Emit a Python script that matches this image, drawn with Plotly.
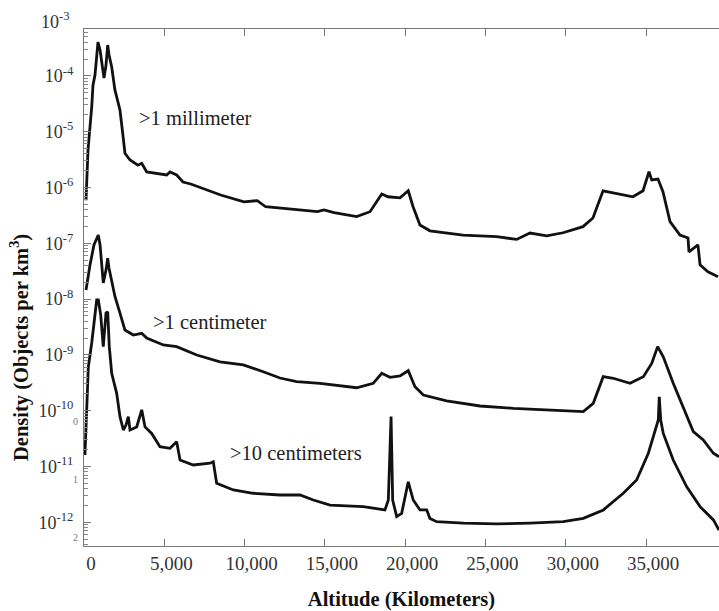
import plotly.graph_objects as go

# ---- data (altitude km, density objects per km^3) ----
mm_alt = [125, 250, 480, 560, 685, 870, 1000, 1245, 1370, 1475, 1560, 1725, 1925, 2240, 2410, 2550,
          2865, 3360, 3595, 3905, 5150, 5355, 5770, 6165, 6645, 7015, 7890, 8510, 9960, 10790, 11310,
          12450, 13490, 14530, 14940, 15570, 16980, 17810, 18540, 18930, 19680, 20190, 20490, 20920,
          21540, 23600, 25700, 26940, 27770, 28810, 29830, 31070, 31690, 32320, 32940, 33560, 34180,
          34810, 35180, 35350, 35740, 36050, 36490, 37110, 37610, 37670, 38230, 38360, 38850, 39480]
mm_den = [5.9e-7, 4.7e-6, 2.76e-5, 6.8e-5, 1.03e-4, 4.0e-4, 2.9e-4, 9.1e-5, 1.56e-4, 3.56e-4, 2.36e-4,
          1.44e-4, 5.6e-5, 2.44e-5, 9.4e-6, 4.1e-6, 3.1e-6, 2.5e-6, 2.7e-6, 1.89e-6, 1.67e-6, 1.89e-6,
          1.67e-6, 1.25e-6, 1.15e-6, 1.05e-6, 8.4e-7, 7.3e-7, 5.5e-7, 5.8e-7, 4.5e-7, 4.2e-7, 3.94e-7,
          3.67e-7, 3.94e-7, 3.52e-7, 2.99e-7, 3.67e-7, 7.6e-7, 6.8e-7, 6.5e-7, 8.7e-7, 4.5e-7, 2.12e-7,
          1.67e-7, 1.40e-7, 1.31e-7, 1.17e-7, 1.52e-7, 1.35e-7, 1.54e-7, 1.98e-7, 2.83e-7, 8.7e-7,
          8.0e-7, 7.3e-7, 6.8e-7, 8.7e-7, 1.91e-6, 1.36e-6, 1.41e-6, 8.4e-7, 2.43e-7, 1.40e-7, 1.24e-7,
          7.0e-8, 9.3e-8, 4.1e-8, 3.08e-8, 2.5e-8]

cm_alt = [125, 375, 620, 890, 1000, 1200, 1370, 1475, 1555, 1725, 1930, 2240, 2550, 3070, 3590, 3905,
          4940, 5770, 7020, 8470, 9920, 11160, 12200, 13240, 14700, 16980, 18010, 18540, 19050,
          19680, 20190, 20610, 21130, 22580, 24660, 26730, 28810, 31090, 31710, 32330, 32960,
          34000, 34830, 35350, 35720, 36070, 36690, 37320, 37940, 38560, 39190, 39540]
cm_den = [1.45e-8, 4.1e-8, 9.3e-8, 1.40e-7, 9.3e-8, 1.94e-8, 3.3e-8, 5.4e-8, 3.6e-8, 2.19e-8, 1.1e-8,
          5.6e-9, 2.78e-9, 2.26e-9, 2.43e-9, 2.0e-9, 1.5e-9, 1.40e-9, 9.9e-10, 7.5e-10, 6.6e-10,
          4.98e-10, 3.84e-10, 3.3e-10, 3.08e-10, 2.57e-10, 3.08e-10, 4.66e-10, 3.95e-10, 4.17e-10,
          5.19e-10, 2.68e-10, 1.9e-10, 1.49e-10, 1.21e-10, 1.10e-10, 1.03e-10, 9.6e-11, 1.35e-10,
          4.06e-10, 3.8e-10, 3.08e-10, 4.06e-10, 7.0e-10, 1.40e-9, 9.2e-10, 3.08e-10, 1.17e-10,
          4.2e-11, 2.97e-11, 1.72e-11, 1.49e-11]

dm_alt = [60, 125, 270, 480, 685, 790, 890, 1040, 1200, 1370, 1475, 1575, 1725, 2035, 2240, 2450,
          2615, 2760, 2865, 3280, 3595, 3800, 4215, 4730, 5355, 5770, 5980, 6805, 7850, 8050, 8260,
          9300, 10540, 12200, 13450, 14280, 15320, 17390, 18740, 18950, 19120, 19220, 19470, 19780,
          20190, 20500, 20920, 21340, 21540, 21960, 23620, 25700, 27770, 29840, 31090, 32340,
          33580, 34410, 35140, 35560, 35760, 35820, 35910, 36070, 36690, 37530, 38360, 39190, 39540]
dm_den = [1.6e-11, 6.8e-11, 6.1e-10, 1.63e-9, 6.4e-9, 9.6e-9, 9.6e-9, 5.2e-9, 1.40e-9, 5.6e-9, 5.9e-9,
          1.4e-9, 4.66e-10, 2.04e-10, 7.8e-11, 4.5e-11, 5.5e-11, 7.8e-11, 4.5e-11, 5.1e-11, 1.03e-10,
          5.1e-11, 3.9e-11, 2.25e-11, 2.11e-11, 2.77e-11, 1.3e-11, 1.06e-11, 1.14e-11, 1.21e-11,
          4.98e-12, 3.78e-12, 3.3e-12, 3.07e-12, 3.07e-12, 2.5e-12, 2.03e-12, 1.9e-12, 1.66e-12,
          2.5e-12, 7.8e-11, 2.5e-12, 1.26e-12, 1.44e-12, 5.3e-12, 2.5e-12, 1.66e-12, 1.66e-12,
          1.17e-12, 1.02e-12, 9.6e-13, 9.3e-13, 9.6e-13, 1.02e-12, 1.17e-12, 1.66e-12, 3.3e-12,
          5.7e-12, 1.72e-11, 4.5e-11, 6.8e-11, 1.77e-10, 6.8e-11, 3.9e-11, 1.3e-11, 4.3e-12, 1.9e-12,
          1.1e-12, 7.2e-13]

series_labels = [">1 millimeter", ">1 centimeter", ">10 centimeters"]

x_tickvals = [0, 5000, 10000, 15000, 20000, 25000, 30000, 35000]
x_ticktext = ["0", "5,000", "10,000", "15,000", "20,000", "25,000", "30,000", "35,000"]
y_tickvals = [1e-4, 1e-5, 1e-6, 1e-7, 1e-8, 1e-9, 1e-10, 1e-11, 1e-12]
y_ticktext = ["10<sup>-4</sup>", "10<sup>-5</sup>", "10<sup>-6</sup>", "10<sup>-7</sup>",
              "10<sup>-8</sup>", "10<sup>-9</sup>", "10<sup>-10</sup>", "10<sup>-11</sup>",
              "10<sup>-12</sup>"]

FONT = "Liberation Serif"
LINE = dict(color="#111111", width=2.8)
AXC = "#777777"

fig = go.Figure()
for xs, ys, name in [(mm_alt, mm_den, series_labels[0]),
                     (cm_alt, cm_den, series_labels[1]),
                     (dm_alt, dm_den, series_labels[2])]:
    fig.add_trace(go.Scatter(x=xs, y=ys, mode="lines", line=LINE, name=name,
                             showlegend=False, hoverinfo="x+y"))

annotations = [
    dict(text=series_labels[0], x=0.0835, y=0.828, xanchor="left", yanchor="middle"),
    dict(text=series_labels[1], x=0.106, y=0.433, xanchor="left", yanchor="middle"),
    dict(text=series_labels[2], x=0.226, y=0.180, xanchor="left", yanchor="middle"),
]
ann = []
for a in annotations:
    a.update(xref="paper", yref="paper", showarrow=False,
             font=dict(family=FONT, size=20.5, color="#222222"))
    ann.append(a)
# top label sitting above the frame
ann.append(dict(text="10<sup>-3</sup>", xref="paper", yref="paper", x=0, y=1.0174,
                xanchor="right", yanchor="middle", xshift=-12, showarrow=False,
                font=dict(family=FONT, size=18, color="#333333")))
# faint leftover label fragments
for t, yy in [("0", 0.240), ("1", 0.128), ("2", 0.017)]:
    ann.append(dict(text=t, xref="paper", yref="paper", x=0, y=yy, xanchor="right",
                    yanchor="middle", xshift=-4, showarrow=False,
                    font=dict(family=FONT, size=10, color="#777777")))
# y title
ann.append(dict(text="<b>Density (Objects per km<sup>3</sup>)</b>", xref="paper", yref="paper",
                x=-0.1008, y=0.385, xanchor="center", yanchor="middle", textangle=-90,
                showarrow=False, font=dict(family=FONT, size=20.5, color="#111111")))

fig.update_layout(
    width=719, height=611,
    margin=dict(l=84, r=0, t=29, b=65),
    paper_bgcolor="white", plot_bgcolor="white",
    font=dict(family=FONT, size=17, color="#333333"),
    annotations=ann,
    xaxis=dict(range=[0, 39540], tickmode="array", tickvals=x_tickvals, ticktext=x_ticktext,
               ticks="inside", ticklen=7, tickwidth=1.2, tickcolor=AXC,
               tickfont=dict(family=FONT, size=19, color="#333333"), ticklabelshift=7,
               showline=True, linecolor=AXC, linewidth=1.3, mirror="ticks",
               showgrid=False, zeroline=False, automargin=False,
               title=dict(text="<b>Altitude (Kilometers)</b>", standoff=20,
                          font=dict(family=FONT, size=20.5, color="#111111"))),
    yaxis=dict(type="log", range=[-12.4265, -3.161], tickmode="array", tickvals=y_tickvals,
               ticktext=y_ticktext, ticks="inside", ticklen=7, tickwidth=1.2, tickcolor=AXC,
               tickfont=dict(family=FONT, size=18, color="#333333"),
               ticklabelstandoff=6, automargin=False,
               minor=dict(ticks="inside", ticklen=4, tickcolor="#888", dtick="D1", showgrid=False),
               showline=True, linecolor=AXC, linewidth=1.3, mirror=False,
               showgrid=False, zeroline=False),
)

fig.write_html("out.html")
